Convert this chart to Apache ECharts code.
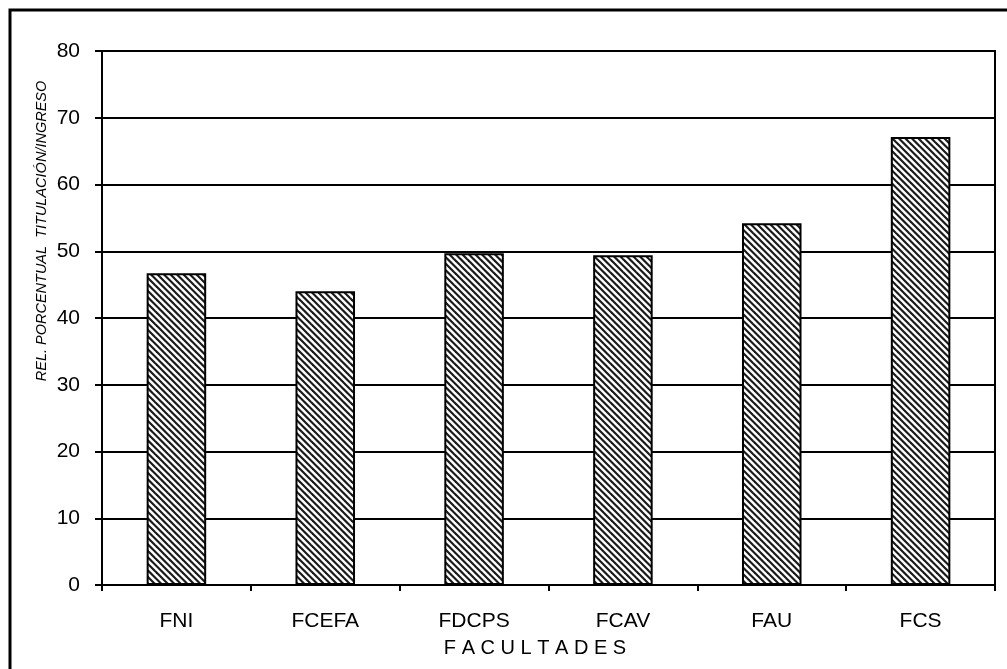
<!DOCTYPE html>
<html>
<head>
<meta charset="utf-8">
<script src="https://cdn.jsdelivr.net/npm/echarts@6/dist/echarts.min.js"></script>
<style>
html,body{margin:0;padding:0;background:#fff;}
#chart{width:1007px;height:669px;}
</style>
</head>
<body>
<div id="chart"></div>
<script>
const categories = ['FNI', 'FCEFA', 'FDCPS', 'FCAV', 'FAU', 'FCS'];
const values = [46.7, 44.0, 49.7, 49.4, 54.2, 67.1];
const yTicks = [0, 10, 20, 30, 40, 50, 60, 70, 80];
const yAxisTitle = 'REL. PORCENTUAL  TITULACIÓN/INGRESO';
const xAxisTitle = 'F A C U L T A D E S';

// hatch pattern
const T = 13;
const tile = document.createElement('canvas');
tile.width = T; tile.height = T;
const c = tile.getContext('2d');
c.fillStyle = '#fff';
c.fillRect(0, 0, T, T);
c.strokeStyle = '#1a1a1a';
c.lineWidth = 2.2;
[-T, -T / 2, 0, T / 2, T].forEach(function (o) {
  c.beginPath();
  c.moveTo(o - 2, -2);
  c.lineTo(o + T + 2, T + 2);
  c.stroke();
});

const font = 'Liberation Sans, Arial, sans-serif';
const chart = echarts.init(document.getElementById('chart'), null, {renderer: 'canvas'});
chart.setOption({
  backgroundColor: '#fff',
  animation: false,
  grid: {left: 102, right: 12, top: 51, bottom: 84, show: true, borderColor: '#000', borderWidth: 2, backgroundColor: '#fff'},
  xAxis: {
    type: 'category',
    data: categories,
    axisLine: {lineStyle: {color: '#000', width: 2}},
    axisTick: {show: true, length: 6, lineStyle: {color: '#000', width: 2}},
    axisLabel: {color: '#000', fontFamily: font, fontSize: 21, margin: 26}
  },
  yAxis: {
    type: 'value',
    min: yTicks[0],
    max: yTicks[yTicks.length - 1],
    interval: 10,
    axisLine: {show: true, lineStyle: {color: '#000', width: 2}},
    axisTick: {show: true, length: 7, lineStyle: {color: '#000', width: 2}},
    axisLabel: {color: '#000', fontFamily: font, fontSize: 21, margin: 22},
    splitLine: {show: true, lineStyle: {color: '#000', width: 2}}
  },
  series: [{
    type: 'bar',
    data: values,
    barWidth: '40%',
    itemStyle: {
      color: {image: tile, repeat: 'repeat'},
      borderColor: '#000',
      borderWidth: 2
    }
  }],
  graphic: [
    {type: 'rect', shape: {x: 10, y: 10, width: 1200, height: 900}, style: {fill: null, stroke: '#000', lineWidth: 3}, z: 100},
    {type: 'text', x: 42, y: 231, rotation: Math.PI / 2,
     style: {text: yAxisTitle, fontFamily: font, fontStyle: 'italic', fontSize: 14.5, fill: '#000', textAlign: 'center', textVerticalAlign: 'middle'}},
    {type: 'text', x: 535, y: 648,
     style: {text: xAxisTitle, fontFamily: font, fontSize: 20, fill: '#000', textAlign: 'center', textVerticalAlign: 'middle'}}
  ]
});
</script>
</body>
</html>
